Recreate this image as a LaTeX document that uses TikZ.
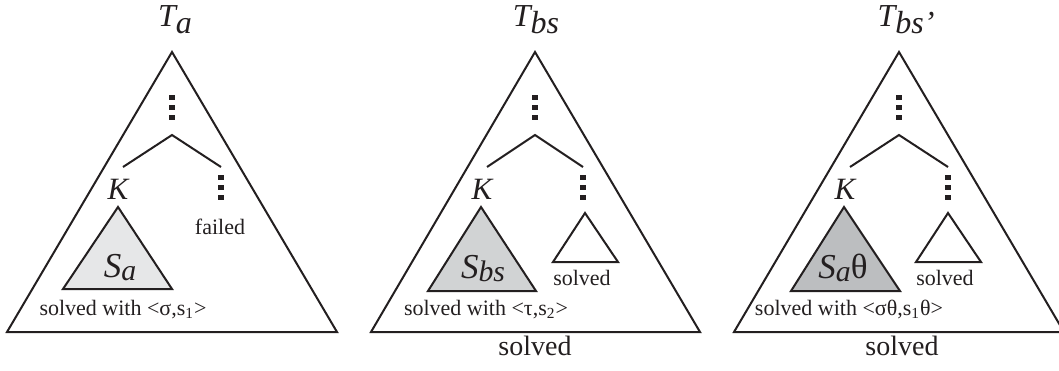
\documentclass[tikz,border=0pt]{standalone}
\usepackage{fontspec}
\setmainfont{Liberation Serif}
\usepackage{graphicx}
\usetikzlibrary{positioning}

\definecolor{ink}{HTML}{231F20}
\definecolor{fillA}{HTML}{E6E7E8}
\definecolor{fillBS}{HTML}{D1D3D4}
\definecolor{fillBT}{HTML}{BCBEC0}

% lowered italic index (S_a, S_bs)
\newcommand{\lsub}[1]{\raisebox{-0.1em}{\scalebox{0.85}{\itshape #1}}}
% title index (T_a, T_bs), full size and further down
\newcommand{\tsub}[1]{\raisebox{-0.24em}{\itshape #1}}

\begin{document}
\begin{tikzpicture}[x=0.5pt, y=-0.5pt,
  tri/.style={draw=ink, line width=1pt, line join=miter},
  branch/.style={draw=ink, line width=1pt},
  vdots/.style={draw=ink, line width=2.6pt, dash pattern=on 2.5pt off 2.5pt},
  title/.style={font=\fontsize{16}{19}\selectfont\itshape, text=ink, anchor=base, inner sep=0pt},
  knode/.style={font=\fontsize{15.5}{18}\selectfont\itshape, text=ink, anchor=base, inner sep=0pt},
  subt/.style={font=\fontsize{17.5}{20}\selectfont\itshape, text=ink, anchor=base, inner sep=0pt},
  small/.style={font=\fontsize{11}{13}\selectfont, text=ink, anchor=base, inner sep=0pt},
  big/.style={font=\fontsize{14}{17}\selectfont, text=ink, anchor=base, inner sep=0pt}]
  \useasboundingbox (0,0) rectangle (1059,370);

  % ---- T_a
  \coordinate (a-top) at (172,52);
  \coordinate (a-bl)  at (7,332);
  \coordinate (a-br)  at (337,332);
  \draw[tri] (a-top) -- (a-bl) -- (a-br) -- cycle;
  \node[title] (a-title) at (175,26) {T\tsub{a}};
  \draw[vdots] (172,95) -- (172,120);
  \coordinate (a-fork) at (172,135);
  \coordinate (a-l)    at (123,167);
  \coordinate (a-r)    at (221,167);
  \draw[branch] (a-l) -- (a-fork) -- (a-r);
  \draw[vdots] (221,175) -- (221,200);
  \node[knode] (a-k) at (118,199) {K};
  \node[small] (a-failed) at (220,234) {failed};
  \draw[tri, fill=fillA] (118,207) -- (63,289) -- (172,289) -- cycle;
  \node[subt] (a-s) at (120,277) {S\lsub{a}};
  \node[small] (a-with) at (123,315) {solved with <σ,s\textsubscript{1}>};

  % ---- T_bs
  \coordinate (b-top) at (535,52);
  \coordinate (b-bl)  at (371,332);
  \coordinate (b-br)  at (700,332);
  \draw[tri] (b-top) -- (b-bl) -- (b-br) -- cycle;
  \node[title] (b-title) at (536,26) {T\tsub{bs}};
  \draw[vdots] (535,95) -- (535,120);
  \coordinate (b-fork) at (535,135);
  \coordinate (b-l)    at (487,167);
  \coordinate (b-r)    at (583,167);
  \draw[branch] (b-l) -- (b-fork) -- (b-r);
  \draw[vdots] (583,175) -- (583,200);
  \node[knode] (b-k) at (482,199) {K};
  \draw[tri, fill=fillBS] (481,207) -- (428,291) -- (536,291) -- cycle;
  \node[subt] (b-s) at (483,278) {S\lsub{bs}};
  \draw[tri] (585,213) -- (553,262) -- (618,262) -- cycle;
  \node[small] (b-solved) at (582,285) {solved};
  \node[small] (b-with) at (486,315) {solved with <τ,s\textsubscript{2}>};
  \node[big] (b-bottom) at (535,355) {solved};

  % ---- T_bs'
  \coordinate (c-top) at (899,52);
  \coordinate (c-bl)  at (734,332);
  \coordinate (c-br)  at (1064,332);
  \draw[tri] (c-top) -- (c-bl) -- (c-br) -- cycle;
  \node[title] (c-title) at (906,26) {T\tsub{bs’}};
  \draw[vdots] (899,95) -- (899,120);
  \coordinate (c-fork) at (899,135);
  \coordinate (c-l)    at (850,167);
  \coordinate (c-r)    at (948,167);
  \draw[branch] (c-l) -- (c-fork) -- (c-r);
  \draw[vdots] (948,175) -- (948,200);
  \node[knode] (c-k) at (845,199) {K};
  \draw[tri, fill=fillBT] (844,207) -- (791,291) -- (900,291) -- cycle;
  \node[subt] (c-s) at (843,278) {S\lsub{a}\textup{θ}};
  \draw[tri] (948,213) -- (916,262) -- (981,262) -- cycle;
  \node[small] (c-solved) at (945,285) {solved};
  \node[small] (c-with) at (849,315) {solved with <σθ,s\textsubscript{1}θ>};
  \node[big] (c-bottom) at (902,355) {solved};
\end{tikzpicture}
\end{document}
